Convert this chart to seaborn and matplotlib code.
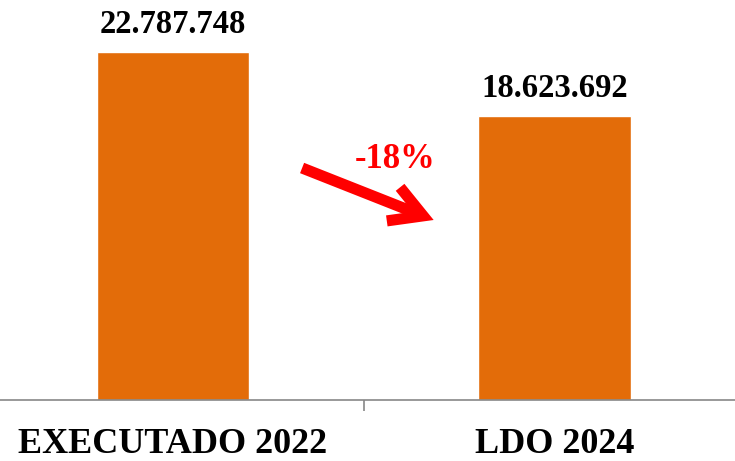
import matplotlib
matplotlib.use("Agg")
import matplotlib.pyplot as plt
import seaborn as sns

categories = ["EXECUTADO 2022", "LDO 2024"]
values = [22787748, 18623692]
change_label = "-18%"

bar_color = "#E36C09"

sns.set_style("white")
plt.rcParams["font.family"] = ["Liberation Serif", "DejaVu Serif"]

fig = plt.figure(figsize=(7.35, 4.61), dpi=100)
ax = fig.add_axes([0, 61 / 461, 1, 400 / 461])

sns.barplot(x=categories, y=values, color=bar_color, width=0.4,
            saturation=1, ax=ax)

ax.set_xlim(-0.453, 1.473)
ax.set_ylim(0, 26.23e6)

# value labels above bars
for i, v in enumerate(values):
    ax.annotate(f"{v:,}".replace(",", "."), xy=(i, v), xytext=(0, 14),
                textcoords="offset points", ha="center", va="baseline",
                fontsize=23.5, fontweight="bold", color="black")

# category labels + single separator tick
ax.set_xticks([0, 1])
ax.set_xticklabels(categories, fontsize=26, fontweight="bold", color="black")
ax.set_xticks([0.5], minor=True)
ax.tick_params(axis="x", which="major", length=0, pad=20)
ax.tick_params(axis="x", which="minor", length=8, width=1.2,
               color="#878787", bottom=True)
ax.set_yticks([])
ax.set_ylabel("")

for side in ["left", "top", "right"]:
    ax.spines[side].set_visible(False)
ax.spines["bottom"].set_color("#878787")
ax.spines["bottom"].set_linewidth(1.2)

# change arrow
ax.annotate("", xy=(0.59, 0.45), xytext=(0.411, 0.58),
            xycoords="axes fraction", textcoords="axes fraction",
            arrowprops=dict(arrowstyle="->,head_length=2.3,head_width=1.3",
                            lw=8, color="#FF0000", shrinkA=0, shrinkB=0,
                            capstyle="butt", joinstyle="miter"))
ax.text(0.537, 0.58, change_label, transform=ax.transAxes,
        ha="center", va="baseline", fontsize=25, fontweight="bold",
        color="#FF0000")

fig.savefig("out.png", dpi=100)
